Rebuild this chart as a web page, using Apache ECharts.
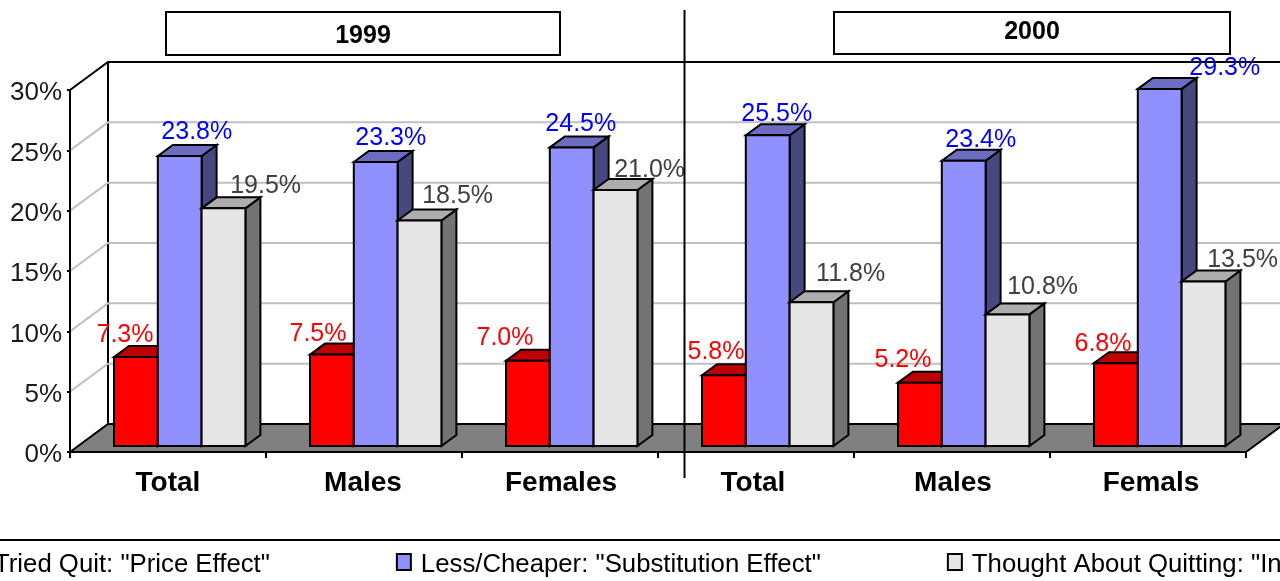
<!DOCTYPE html>
<html><head><meta charset="utf-8">
<style>html,body{margin:0;padding:0;background:#fff}#c{width:1280px;height:581px}</style>
<script src="https://cdn.jsdelivr.net/npm/echarts@6/dist/echarts.min.js"></script>
</head><body><div id="c"></div>
<script>
const categories = ['Total','Males','Females','Total','Males','Femals'];
const triedQuit = [7.3,7.5,7.0,5.8,5.2,6.8];
const lessCheaper = [23.8,23.3,24.5,25.5,23.4,29.3];
const thoughtAbout = [19.5,18.5,21.0,11.8,10.8,13.5];
const seriesNames = ['Tried Quit: "Price Effect"','Less/Cheaper: "Substitution Effect"','Thought About Quitting: "Intent Effect"'];
const years = ['1999','2000'];
const gridValues = [5,10,15,20,25];

// layout and style only
const F = '"Liberation Sans", Arial, sans-serif';
const palettes = [
  {front:'#ff0000',top:'#bf0000',side:'#7f0000',text:'#ff0000'},
  {front:'#9090ff',top:'#6c6cc0',side:'#484880',text:'#0000ff'},
  {front:'#e6e6e6',top:'#adadad',side:'#737373',text:'#404040'}
];
const labelNudge = [
  [[11,-22],[8,-20],[-1,-23],[14,-23],[5,-23],[9,-19]],
  [[39,-24],[37,-24],[31,-23],[31,-21],[39,-21],[87,-21]],
  [[64,-22],[60,-24],[56,-20],[61,-28],[57,-27],[61,-21]]
];
const catLabelShift = [0,-1,1,-3,1,3];
const wallDX = 38, wallDY = 28, barInset = 6, barDX = 15, barDY = 11, barScale = 1.01;
const line = {stroke:'#000',lineWidth:2,fill:null};

function barSeries(values, s){
  return {
    type:'custom', name:seriesNames[s], z:3+s,
    encode:{x:0,y:1},
    data:values.map((v,i)=>[i,v]),
    renderItem(params, api){
      const i = api.value(0), v = api.value(1);
      const band = api.size([1,0])[0];
      const w = band*43.8/196;
      const y0 = api.coord([i,0])[1];
      const yv = api.coord([i,v])[1];
      const base = y0 - barInset;
      const top = base - (y0-yv)*barScale;
      const left = api.coord([i,0])[0] - band/2 + band*44/196 + s*w;
      const right = left + w;
      const p = palettes[s];
      const poly = (pts,fill)=>({type:'polygon',shape:{points:pts},style:{fill,stroke:'#000',lineWidth:2,lineJoin:'miter'}});
      return {type:'group',children:[
        poly([[right,top],[right+barDX,top-barDY],[right+barDX,base-barDY],[right,base]],p.side),
        poly([[left,top],[left+barDX,top-barDY],[right+barDX,top-barDY],[right,top]],p.top),
        poly([[left,top],[right,top],[right,base],[left,base]],p.front),
        {type:'text',z2:50,style:{x:left+labelNudge[s][i][0],y:top+labelNudge[s][i][1],text:v.toFixed(1)+'%',
          fill:p.text,font:'25px '+F,align:'center',verticalAlign:'middle'}}
      ]};
    }
  };
}

const floorSeries = {
  type:'custom', name:'floor', z:1, encode:{x:0,y:1}, data:[[0,0]],
  renderItem(params, api){
    const band = api.size([1,0])[0];
    const [cx,y] = api.coord([0,0]);
    const x0 = cx-band/2, x1 = api.coord([5,0])[0]+band/2;
    const yTop = api.coord([0,30])[1];
    return {type:'group',children:[
      {type:'polygon',shape:{points:[[x0,y],[x0+wallDX,y-wallDY],[x1+wallDX,y-wallDY],[x1,y]]},
        style:{fill:'#808080',stroke:'#000',lineWidth:2}},
      {type:'polyline',shape:{points:[[x0,yTop],[x0+wallDX,yTop-wallDY],[x1+wallDX,yTop-wallDY]]},style:line},
      {type:'line',shape:{x1:x0+wallDX,y1:yTop-wallDY,x2:x0+wallDX,y2:y-wallDY},style:{stroke:'#000',lineWidth:2}}
    ]};
  }
};
const gridSeries = {
  type:'custom', name:'grid', z:1, encode:{x:0,y:1}, data:gridValues.map(v=>[0,v]),
  renderItem(params, api){
    const band = api.size([1,0])[0];
    const [cx,y] = api.coord([0,api.value(1)]);
    const x0 = cx-band/2, x1 = api.coord([5,0])[0]+band/2;
    return {type:'polyline',shape:{points:[[x0,y],[x0+wallDX,y-wallDY],[x1+wallDX,y-wallDY]]},
      style:{stroke:'#c0c0c0',lineWidth:2,fill:null}};
  }
};

const boxes = [[166,12,394,43],[834,12,396,42]];
const yearDY = [3,-1];
const graphic = [];
years.forEach((t,i)=>{
  const b = boxes[i];
  graphic.push({type:'rect',z:20,shape:{x:b[0],y:b[1],width:b[2],height:b[3]},style:{fill:'#fff',stroke:'#000',lineWidth:2}});
  graphic.push({type:'text',z:21,style:{x:b[0]+b[2]/2,y:b[1]+b[3]/2+yearDY[i],text:t,fill:'#000',font:'bold 25px '+F,align:'center',verticalAlign:'middle'}});
});
graphic.push({type:'line',z:20,shape:{x1:684.5,y1:10,x2:684.5,y2:478},style:{stroke:'#000',lineWidth:2}});
graphic.push({type:'line',z:20,shape:{x1:0,y1:540,x2:1280,y2:540},style:{stroke:'#000',lineWidth:2}});

const rich = {};
catLabelShift.forEach((d,i)=>{
  rich['c'+i] = {color:'#000',fontFamily:F,fontWeight:'bold',fontSize:28,
    padding:[0,d<0?-2*d:0,0,d>0?2*d:0]};
});

const chart = echarts.init(document.getElementById('c'),null,{renderer:'canvas'});
chart.setOption({
  animation:false,
  backgroundColor:'#fff',
  grid:{left:70,top:90,width:1176,height:362,containLabel:false},
  xAxis:{type:'category',data:categories,z:8,boundaryGap:true,
    axisLine:{lineStyle:{color:'#000',width:2}},
    axisTick:{show:true,length:6,alignWithLabel:false,lineStyle:{color:'#000',width:2}},
    axisLabel:{color:'#000',fontFamily:F,fontWeight:'bold',fontSize:28,margin:17,interval:0,
      formatter:(v,i)=>'{c'+i+'|'+v+'}',rich},
    splitLine:{show:false}},
  yAxis:{type:'value',min:0,max:30,interval:5,z:8,
    axisLine:{show:true,lineStyle:{color:'#000',width:2}},
    axisTick:{show:true,length:3,lineStyle:{color:'#000',width:2}},
    axisLabel:{margin:8,formatter:'{a|{value}%}',
      rich:{a:{color:'#1a1a1a',fontFamily:F,fontSize:26,padding:[6,0,0,0]}}},
    splitLine:{show:false}},
  legend:{left:-36,top:547,width:3000,orient:'horizontal',itemWidth:14,itemHeight:16,itemGap:126,
    formatter:n=>'{a|'+n+'}',
    textStyle:{color:'#000',fontFamily:F,fontSize:25.75,
      rich:{a:{color:'#000',fontFamily:F,fontSize:25.75,padding:[6,0,0,5]}}},
    selectedMode:false,
    data:seriesNames.map((n,i)=>({name:n,icon:'rect',itemStyle:{color:palettes[i].front,borderColor:'#000',borderWidth:2}}))},
  graphic,
  series:[floorSeries,gridSeries,barSeries(triedQuit,0),barSeries(lessCheaper,1),barSeries(thoughtAbout,2)]
});
</script></body></html>
